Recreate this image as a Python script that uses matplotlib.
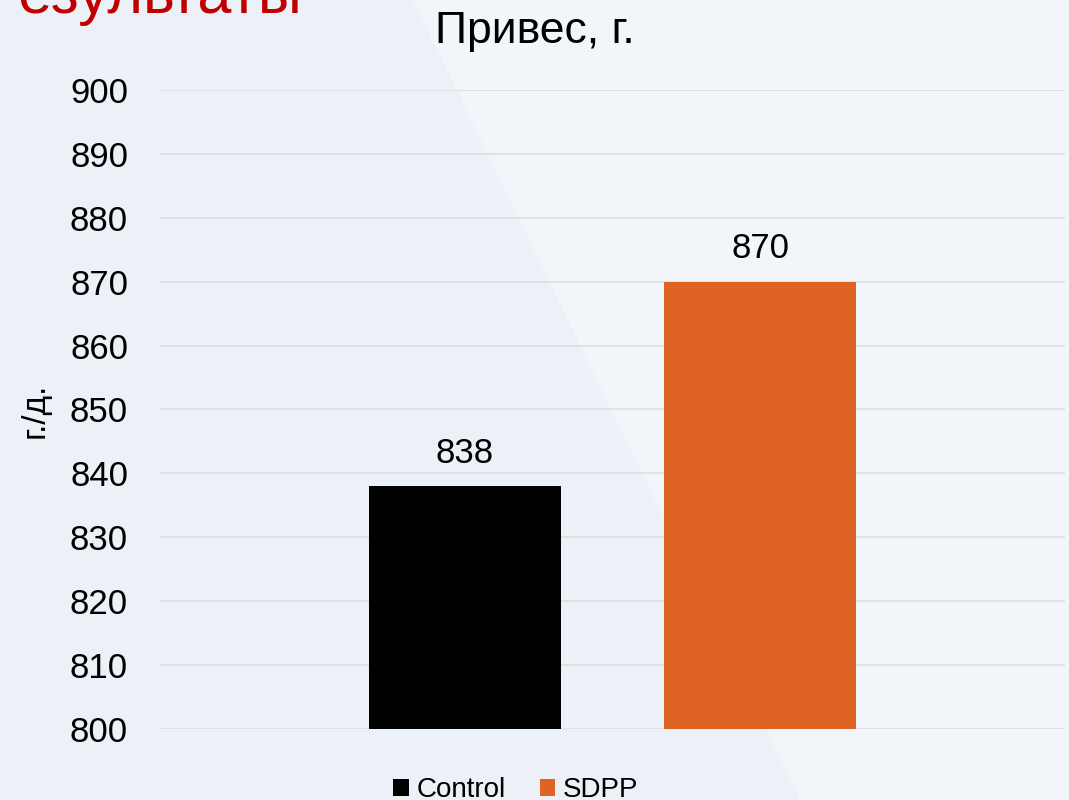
import matplotlib
matplotlib.use("Agg")
import matplotlib.pyplot as plt
from matplotlib.patches import Polygon, Patch

plt.rcParams['font.family'] = ['Liberation Sans', 'DejaVu Sans']

# Chart data
series = ['Control', 'SDPP']
gains = [838, 870]
bar_colors = ['#000000', '#E06326']
y_ticks = [800, 810, 820, 830, 840, 850, 860, 870, 880, 890, 900]

W, H = 1069, 800
fig = plt.figure(figsize=(W / 100, H / 100), dpi=100)
fig.patch.set_facecolor('#ECF0F7')

# lighter diagonal panel of the slide background
fig.patches.append(Polygon(
    [(413 / W, 1.0), (1.0, 1.0), (1.0, 0.0), (800 / W, 0.0)],
    closed=True, transform=fig.transFigure, facecolor='#F2F5F9',
    edgecolor='none', zorder=-10))

# slide heading, partly off the top edge
fig.text(302 / W, 1 - 13 / H, 'Результаты', color='#C00000', fontsize=44,
         ha='right', va='baseline')

ax = fig.add_axes([160 / W, 1 - 729 / H, (1065 - 160) / W, (729 - 90) / H])
ax.set_facecolor('none')

width = 0.212
offsets = [-0.163, 0.163]
for name, val, col, off in zip(series, gains, bar_colors, offsets):
    ax.bar(off, val - 800, bottom=800, width=width, color=col, zorder=3,
           label=name)
    ax.annotate(str(val), (off, val), xytext=(0, 12), textcoords='offset points',
                ha='center', va='bottom', fontsize=25, color='#000000')

ax.set_xlim(-0.5, 0.5)
ax.set_ylim(800, 900)
ax.set_yticks(y_ticks)
ax.set_xticks([])
ax.tick_params(axis='y', length=0, pad=23, labelsize=25, labelcolor='#000000')
ax.grid(axis='y', color='#DDE0E3', linewidth=1.3, zorder=0)
for s in ax.spines.values():
    s.set_visible(False)

fig.text(35 / W, 1 - 410 / H, 'г./д.', rotation=90, fontsize=24,
         ha='center', va='center')
fig.text(535 / W, 1 - 32 / H, 'Привес, г.', fontsize=32,
         ha='center', va='center')

handles = [Patch(facecolor=c, edgecolor='none') for c in bar_colors]
fig.legend(handles, series, loc='center', bbox_to_anchor=(516 / W, 1 - 790 / H),
           ncol=2, frameon=False, fontsize=20, handlelength=0.55,
           handleheight=0.55, handletextpad=0.3, columnspacing=1.2)

fig.savefig('out.png', dpi=100, facecolor=fig.get_facecolor())
